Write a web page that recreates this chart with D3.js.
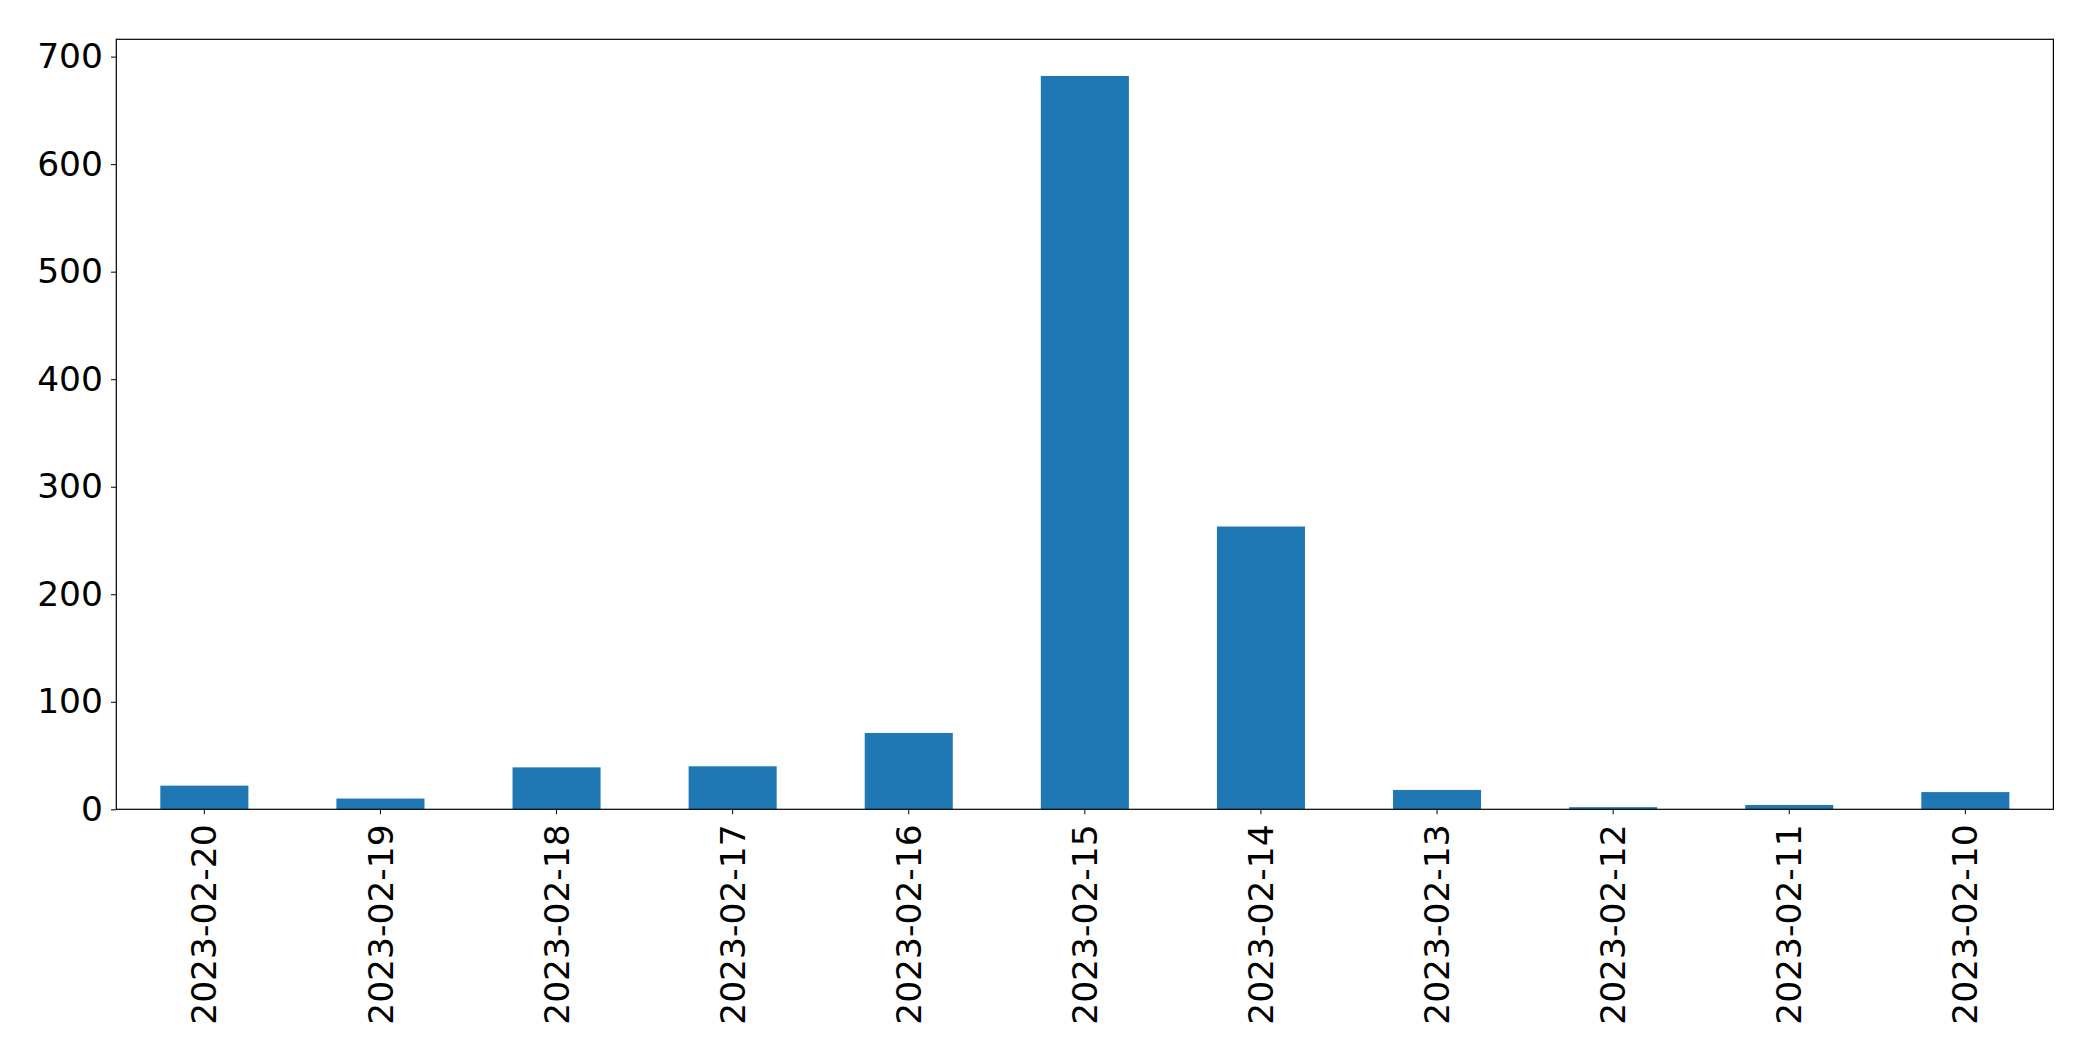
<!DOCTYPE html>
<html>
<head>
<meta charset="utf-8">
<script src="https://cdn.jsdelivr.net/npm/d3@7"></script>
<style>
  html, body { margin: 0; padding: 0; background: #fff; }
  svg { display: block; }
</style>
</head>
<body>
<svg id="chart" width="2093" height="1061"></svg>
<script>
const categories = ["2023-02-20","2023-02-19","2023-02-18","2023-02-17","2023-02-16","2023-02-15","2023-02-14","2023-02-13","2023-02-12","2023-02-11","2023-02-10"];
const values = [22, 10, 39, 40, 71, 682, 263, 18, 2, 4, 16];
const yTicks = [0, 100, 200, 300, 400, 500, 600, 700];

const W = 2093, H = 1061;
const margin = { left: 116.3, right: W - 2053.4, top: 39.3, bottom: H - 809.3 };
const iw = W - margin.left - margin.right;
const ih = H - margin.top - margin.bottom;
const fontFamily = "'DejaVu Sans', sans-serif";
const fontSize = 34.5;

const svg = d3.select("#chart");
const g = svg.append("g").attr("transform", `translate(${margin.left},${margin.top})`);

const x = d3.scaleBand().domain(categories).range([0, iw]).paddingInner(0.5).paddingOuter(0.25);
const y = d3.scaleLinear().domain([0, d3.max(values) * 1.05]).range([ih, 0]);

g.selectAll("rect.bar").data(values).enter().append("rect")
  .attr("class", "bar")
  .attr("x", (d, i) => x(categories[i]))
  .attr("width", x.bandwidth())
  .attr("y", d => y(d))
  .attr("height", d => ih - y(d))
  .attr("fill", "#1f77b4");

const yAxis = g.append("g")
  .call(d3.axisLeft(y).tickValues(yTicks).tickFormat(d3.format("d")).tickSize(5.3).tickPadding(8));
yAxis.select(".domain").remove();
yAxis.selectAll("text").attr("font-family", fontFamily).attr("font-size", fontSize).attr("fill", "#000");
yAxis.selectAll("line").attr("stroke", "#000").attr("stroke-width", 1);

const xAxis = g.append("g").attr("transform", `translate(0,${ih})`)
  .call(d3.axisBottom(x).tickSize(5).tickPadding(0));
xAxis.select(".domain").remove();
xAxis.selectAll("line").attr("stroke", "#000").attr("stroke-width", 1);
xAxis.selectAll("text")
  .attr("font-family", fontFamily).attr("font-size", fontSize).attr("fill", "#000")
  .attr("transform", "rotate(-90)")
  .attr("text-anchor", "end")
  .attr("x", -15)
  .attr("y", 0)
  .attr("dy", "0.35em");

g.append("rect")
  .attr("x", 0).attr("y", 0).attr("width", iw).attr("height", ih)
  .attr("fill", "none").attr("stroke", "#000").attr("stroke-width", 1.2);
</script>
</body>
</html>
